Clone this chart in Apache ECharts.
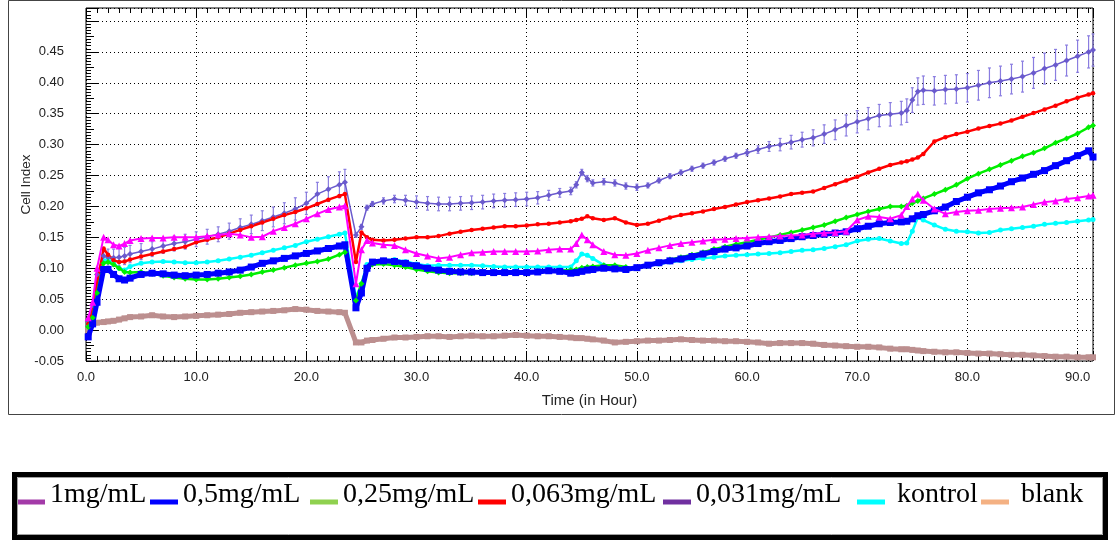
<!DOCTYPE html>
<html>
<head>
<meta charset="utf-8">
<script src="https://cdn.jsdelivr.net/npm/echarts@6/dist/echarts.min.js"></script>
<style>
html,body{margin:0;padding:0;background:#fff;}
#c{width:1119px;height:540px;}
</style>
</head>
<body>
<div id="c"></div>
<script>
// ---- data (time in hours, Cell Index) ----
const times = [
  0.2, 0.6, 1.0, 1.6, 2.0, 2.5, 3.0, 3.5, 4, 5,
  6, 7, 8, 9, 10, 11, 12, 13, 14, 15,
  16, 17, 18, 19, 20, 21, 22, 23, 23.5,
  24.5, 25, 25.5, 26, 27, 28, 29, 30, 31, 32, 33, 34, 35, 36, 37, 38, 39, 40, 41, 42, 43, 44,
  44.5, 45, 45.5, 46, 47, 48, 49, 50,
  51, 52, 53, 54, 55, 56, 57, 58, 59, 60, 61, 62, 63, 64, 65, 66, 67, 68, 69, 70, 71, 72, 73, 74,
  74.5, 75, 75.5, 76,
  77, 78, 79, 80, 81, 82, 83, 84, 85, 86, 87, 88, 89, 90, 91,
  91.4
];
const mg1 = [
  0.020, 0.045, 0.100, 0.150, 0.146, 0.138, 0.136, 0.140, 0.145, 0.148,
  0.149, 0.149, 0.150, 0.150, 0.150, 0.152, 0.154, 0.156, 0.154, 0.150,
  0.151, 0.160, 0.166, 0.172, 0.180, 0.188, 0.195, 0.199, 0.201,
  0.075, 0.130, 0.145, 0.141, 0.138, 0.137, 0.130, 0.124, 0.120, 0.116, 0.118, 0.122, 0.125, 0.126, 0.127, 0.127, 0.127, 0.127, 0.128, 0.130, 0.131, 0.131,
  0.140, 0.154, 0.146, 0.138, 0.127, 0.122, 0.121, 0.124,
  0.129, 0.133, 0.137, 0.140, 0.142, 0.144, 0.146, 0.147, 0.148, 0.149, 0.150, 0.151, 0.152, 0.153, 0.154, 0.156, 0.157, 0.158, 0.160, 0.178, 0.184, 0.183, 0.180, 0.186,
  0.200, 0.212, 0.220, 0.210,
  0.196, 0.188, 0.191, 0.193, 0.194, 0.196, 0.197, 0.198, 0.199, 0.203, 0.207, 0.209, 0.212, 0.214, 0.217,
  0.218
];
const mg05 = [
  -0.011, 0.010, 0.045, 0.098, 0.098, 0.090, 0.083, 0.081, 0.084, 0.090,
  0.092, 0.091, 0.089, 0.088, 0.089, 0.090, 0.092, 0.094, 0.097, 0.102,
  0.108, 0.112, 0.116, 0.120, 0.124, 0.128, 0.132, 0.136, 0.138,
  0.036, 0.060, 0.100, 0.110, 0.112, 0.111, 0.108, 0.104, 0.100, 0.097, 0.095, 0.094, 0.094, 0.093, 0.093, 0.093, 0.093, 0.093, 0.094, 0.096, 0.095, 0.092,
  0.093, 0.095, 0.097, 0.098, 0.100, 0.099, 0.098, 0.101,
  0.105, 0.109, 0.112, 0.115, 0.119, 0.123, 0.127, 0.131, 0.133, 0.136, 0.140, 0.143, 0.145, 0.148, 0.151, 0.153, 0.155, 0.157, 0.159, 0.164, 0.168, 0.172, 0.174, 0.175,
  0.176, 0.180, 0.185, 0.187,
  0.193, 0.199, 0.208, 0.215, 0.222, 0.227, 0.233, 0.240, 0.246, 0.252, 0.258, 0.266, 0.274, 0.282, 0.290,
  0.280
];
const mg025 = [
  0.005, 0.020, 0.060, 0.108, 0.110, 0.106, 0.100, 0.094, 0.093, 0.094,
  0.091, 0.088, 0.085, 0.083, 0.082, 0.082, 0.083, 0.085, 0.087, 0.090,
  0.094, 0.097, 0.101, 0.105, 0.108, 0.111, 0.115, 0.122, 0.126,
  0.048, 0.075, 0.100, 0.106, 0.107, 0.105, 0.102, 0.098, 0.095, 0.093, 0.092, 0.092, 0.092, 0.093, 0.093, 0.093, 0.094, 0.094, 0.095, 0.096, 0.096, 0.097,
  0.098, 0.101, 0.102, 0.103, 0.105, 0.105, 0.102, 0.100,
  0.104, 0.109, 0.114, 0.118, 0.122, 0.126, 0.131, 0.135, 0.139, 0.142, 0.146, 0.150, 0.154, 0.158, 0.162, 0.166, 0.170, 0.176, 0.182, 0.187, 0.192, 0.196, 0.200, 0.200,
  0.201, 0.205, 0.209, 0.213,
  0.220, 0.227, 0.235, 0.245, 0.253, 0.260, 0.267, 0.274, 0.281, 0.287, 0.294, 0.303, 0.310, 0.318, 0.328,
  0.331
];
const mg0063 = [
  0.010, 0.030, 0.075, 0.132, 0.122, 0.113, 0.110, 0.111, 0.114, 0.119,
  0.123, 0.127, 0.131, 0.135, 0.142, 0.146, 0.150, 0.156, 0.162, 0.168,
  0.174, 0.180, 0.186, 0.191, 0.197, 0.204, 0.211, 0.217, 0.220,
  0.110, 0.158, 0.150, 0.146, 0.145, 0.146, 0.148, 0.150, 0.150, 0.152, 0.156, 0.159, 0.162, 0.164, 0.166, 0.168, 0.168, 0.169, 0.171, 0.172, 0.174, 0.176,
  0.178, 0.180, 0.184, 0.181, 0.178, 0.181, 0.174, 0.170,
  0.172, 0.177, 0.182, 0.186, 0.189, 0.192, 0.196, 0.199, 0.203, 0.207, 0.210, 0.213, 0.216, 0.220, 0.222, 0.224, 0.230, 0.236, 0.242, 0.248, 0.255, 0.261, 0.267, 0.271,
  0.273, 0.276, 0.279, 0.285,
  0.305, 0.312, 0.317, 0.321, 0.326, 0.330, 0.334, 0.339, 0.345, 0.351, 0.357, 0.363, 0.370, 0.376, 0.381,
  0.383
];
const mg0031 = [
  0.015, 0.040, 0.090, 0.120, 0.118, 0.117, 0.118, 0.120, 0.123, 0.127,
  0.131, 0.136, 0.140, 0.143, 0.147, 0.151, 0.155, 0.160, 0.166, 0.171,
  0.177, 0.183, 0.189, 0.196, 0.205, 0.220, 0.228, 0.235, 0.239,
  0.154, 0.167, 0.198, 0.204, 0.209, 0.212, 0.210, 0.207, 0.205, 0.204, 0.204, 0.205, 0.206, 0.207, 0.209, 0.210, 0.211, 0.212, 0.214, 0.218, 0.222, 0.225,
  0.235, 0.255, 0.245, 0.238, 0.240, 0.238, 0.233, 0.231,
  0.234, 0.242, 0.249, 0.255, 0.261, 0.266, 0.271, 0.277, 0.282, 0.287, 0.292, 0.297, 0.300, 0.304, 0.308, 0.311, 0.317, 0.324, 0.331, 0.337, 0.342, 0.347, 0.349, 0.351,
  0.355, 0.372, 0.386, 0.388,
  0.387, 0.389, 0.390, 0.392, 0.396, 0.400, 0.403, 0.406, 0.410, 0.416, 0.423, 0.429, 0.436, 0.443, 0.450,
  0.453
];
const mg0031Err = [
  0.003, 0.005, 0.008, 0.012, 0.013, 0.014, 0.014, 0.014, 0.014, 0.013,
  0.012, 0.012, 0.012, 0.012, 0.012, 0.012, 0.012, 0.013, 0.014, 0.015,
  0.016, 0.016, 0.017, 0.018, 0.018, 0.019, 0.020, 0.021, 0.021,
  0.004, 0.004, 0.004, 0.004, 0.005, 0.006, 0.008, 0.010, 0.011, 0.011, 0.011, 0.011, 0.011, 0.011, 0.011, 0.011, 0.011, 0.011, 0.010, 0.008, 0.007, 0.006,
  0.005, 0.005, 0.005, 0.005, 0.005, 0.005, 0.005, 0.005,
  0.004, 0.004, 0.004, 0.004, 0.004, 0.004, 0.004, 0.004, 0.004, 0.005, 0.006, 0.008, 0.010, 0.011, 0.012, 0.013, 0.015, 0.016, 0.017, 0.018, 0.018, 0.018, 0.019, 0.019,
  0.019, 0.020, 0.022, 0.023,
  0.023, 0.023, 0.023, 0.023, 0.024, 0.024, 0.024, 0.024, 0.025, 0.025, 0.025, 0.025, 0.025, 0.026, 0.026,
  0.026
];
const kontrol = [
  0.010, 0.030, 0.070, 0.112, 0.115, 0.108, 0.100, 0.097, 0.103, 0.108,
  0.110, 0.111, 0.110, 0.109, 0.109, 0.110, 0.112, 0.115, 0.118, 0.121,
  0.125, 0.129, 0.133, 0.137, 0.143, 0.147, 0.151, 0.155, 0.157,
  0.052, 0.075, 0.106, 0.110, 0.113, 0.114, 0.111, 0.107, 0.104, 0.105, 0.105, 0.105, 0.105, 0.104, 0.103, 0.102, 0.102, 0.102, 0.102, 0.102, 0.102, 0.102,
  0.112, 0.123, 0.121, 0.116, 0.105, 0.098, 0.097, 0.100,
  0.104, 0.107, 0.110, 0.112, 0.114, 0.116, 0.118, 0.120, 0.121, 0.122, 0.123, 0.124, 0.125, 0.127, 0.129, 0.130, 0.132, 0.135, 0.138, 0.144, 0.147, 0.148, 0.144, 0.140,
  0.141, 0.160, 0.182, 0.178,
  0.170, 0.163, 0.160, 0.159, 0.157, 0.158, 0.162, 0.164, 0.166, 0.168, 0.171, 0.173, 0.174, 0.176, 0.178,
  0.179
];
const blank = [
  0.000, 0.010, 0.012, 0.013, 0.014, 0.015, 0.017, 0.019, 0.021, 0.022,
  0.024, 0.022, 0.021, 0.022, 0.023, 0.024, 0.025, 0.026, 0.028, 0.029,
  0.030, 0.031, 0.032, 0.034, 0.033, 0.031, 0.030, 0.029, 0.028,
  -0.020, -0.020, -0.017, -0.016, -0.014, -0.012, -0.012, -0.011, -0.010, -0.010, -0.011, -0.010, -0.009, -0.010, -0.010, -0.009, -0.008, -0.009, -0.010, -0.010, -0.011, -0.012,
  -0.013, -0.013, -0.014, -0.015, -0.017, -0.020, -0.019, -0.018,
  -0.017, -0.017, -0.016, -0.015, -0.016, -0.017, -0.017, -0.018, -0.018, -0.019, -0.020, -0.022, -0.021, -0.021, -0.021, -0.022, -0.024, -0.025, -0.026, -0.027, -0.027, -0.028, -0.030, -0.031,
  -0.031, -0.032, -0.033, -0.034,
  -0.035, -0.036, -0.036, -0.037, -0.038, -0.038, -0.039, -0.040, -0.040, -0.041, -0.042, -0.043, -0.043, -0.044, -0.044,
  -0.044
];
const seriesNames = ['1mg/mL', '0,5mg/mL', '0,25mg/mL', '0,063mg/mL', '0,031mg/mL', 'kontrol', 'blank'];
const legendColors = ['#a33aa8', '#0000ff', '#8fd14f', '#ff0000', '#7030a0', '#00ffff', '#f4b183'];
const xMin = 0, xMax = 91.4;
const yMin = -0.05, yMax = 0.521;

// ---- chart ----
const FONT = '"Liberation Sans", Arial, sans-serif';
const pair = arr => times.map((t, i) => [t, arr[i]]);

function lineSeries(name, arr, color, symbol, size, width, z) {
  return {
    type: 'line', name, data: pair(arr),
    xAxisIndex: 0, yAxisIndex: 0,
    symbol, symbolSize: size, showAllSymbol: true,
    lineStyle: { color, width },
    itemStyle: { color, borderWidth: 0 },
    emphasis: { disabled: true }, silent: true, z
  };
}

const errData = times.map((t, i) => [t, mg0031[i] - mg0031Err[i], mg0031[i] + mg0031Err[i]]);

const tickAxisBase = {
  type: 'value', min: xMin, max: xMax,
  axisLine: { show: false, onZero: false },
  axisLabel: { show: false },
  splitLine: { show: false }
};
const yTickBase = {
  type: 'value', min: yMin, max: yMax, position: 'left',
  axisLine: { show: false, onZero: false },
  axisLabel: { show: false },
  splitLine: { show: false }
};
const gridLine = { show: true, lineStyle: { color: '#000', width: 1, type: [1, 3] } };

const ICON = 'path://M0,0L0,0M0,14L28,14L28,19L0,19Z';
const legendLefts = [17, 150, 310, 478, 663, 857, 981];
const legendPrefix = ['', '', '', '', '', ' ', ' '];
const legends = seriesNames.map((n, i) => ({
  left: legendLefts[i], top: 481, padding: 0, orient: 'horizontal',
  itemWidth: 28, itemHeight: 19, selectedMode: false,
  data: [{ name: n, icon: ICON, itemStyle: { color: legendColors[i], borderWidth: 0 } }],
  formatter: name => legendPrefix[i] + name,
  textStyle: { fontFamily: '"Liberation Serif", "Times New Roman", serif', fontSize: 28, color: '#000' }
}));

const chart = echarts.init(document.getElementById('c'), null, { renderer: 'canvas' });
chart.setOption({
  animation: false,
  backgroundColor: '#fff',
  grid: { left: 86, top: 8, width: 1007, height: 353, show: true, borderColor: '#000', borderWidth: 1, backgroundColor: 'transparent', outerBoundsMode: 'none' },
  legend: legends,
  xAxis: [
    {
      type: 'value', min: xMin, max: xMax, interval: 10, position: 'bottom',
      axisLine: { show: false, onZero: false },
      axisTick: { inside: true, length: 10, lineStyle: { color: '#000' } },
      axisLabel: {
        margin: 10, fontSize: 13, fontFamily: FONT, color: '#222',
        formatter: v => (Math.abs(v / 10 - Math.round(v / 10)) < 1e-6 ? v.toFixed(1) : '')
      },
      splitLine: gridLine,
      name: 'Time (in Hour)', nameLocation: 'middle', nameGap: 32, nameMoveOverlap: false,
      nameTextStyle: { fontSize: 15, fontFamily: FONT, color: '#222' }
    },
    Object.assign({}, tickAxisBase, { interval: 1, position: 'bottom', axisTick: { inside: true, length: 5, lineStyle: { color: '#000' } } }),
    Object.assign({}, tickAxisBase, { interval: 10, position: 'top', axisTick: { inside: true, length: 10, lineStyle: { color: '#000' } } }),
    Object.assign({}, tickAxisBase, { interval: 1, position: 'top', axisTick: { inside: true, length: 5, lineStyle: { color: '#000' } } })
  ],
  yAxis: [
    {
      type: 'value', min: yMin, max: yMax, interval: 0.05, position: 'left',
      axisLine: { show: false, onZero: false },
      axisTick: { inside: true, length: 12, lineStyle: { color: '#000' } },
      axisLabel: {
        margin: 22, fontSize: 13, fontFamily: FONT, color: '#222',
        formatter: v => {
          const k = Math.round(v * 20);
          if (Math.abs(v * 20 - k) > 1e-6 || v > 0.46) return '';
          return v.toFixed(2);
        }
      },
      splitLine: gridLine,
      name: 'Cell Index', nameLocation: 'middle', nameGap: 53, nameMoveOverlap: false,
      nameTextStyle: { fontSize: 13.5, fontFamily: FONT, color: '#222' }
    },
    Object.assign({}, yTickBase, { interval: 0.025, axisTick: { inside: true, length: 8, lineStyle: { color: '#000' } } }),
    Object.assign({}, yTickBase, { interval: 0.005, axisTick: { inside: true, length: 5, lineStyle: { color: '#000' } } })
  ],
  series: [
    lineSeries('blank', blank, '#bc8f8f', 'rect', 6, 5, 2),
    lineSeries('kontrol', kontrol, '#00ffff', 'circle', 5, 2.5, 3),
    {
      type: 'custom', name: '0,031mg/mL error', xAxisIndex: 0, yAxisIndex: 0, z: 3, silent: true,
      data: errData, encode: { x: 0, y: [1, 2] },
      renderItem: (params, api) => {
        const x = api.value(0);
        const a = api.coord([x, api.value(1)]);
        const b = api.coord([x, api.value(2)]);
        const st = { stroke: '#8a7de0', lineWidth: 1.2 };
        return {
          type: 'group', children: [
            { type: 'line', shape: { x1: a[0], y1: a[1], x2: b[0], y2: b[1] }, style: st },
            { type: 'line', shape: { x1: a[0] - 1.5, y1: a[1], x2: a[0] + 1.5, y2: a[1] }, style: st },
            { type: 'line', shape: { x1: b[0] - 1.5, y1: b[1], x2: b[0] + 1.5, y2: b[1] }, style: st }
          ]
        };
      }
    },
    lineSeries('0,031mg/mL', mg0031, '#6a5acd', 'diamond', 6, 1.5, 4),
    lineSeries('0,063mg/mL', mg0063, '#ff0000', 'circle', 4.5, 2.5, 4),
    lineSeries('0,25mg/mL', mg025, '#00ee00', 'diamond', 6, 2.5, 5),
    lineSeries('0,5mg/mL', mg05, '#0000ff', 'rect', 7, 5, 5),
    lineSeries('1mg/mL', mg1, '#ff00ff', 'triangle', 7, 2, 6)
  ],
  graphic: [
    { type: 'rect', silent: true, z: 100, shape: { x: 8.5, y: 0.5, width: 1106, height: 414 }, style: { fill: 'none', stroke: '#444', lineWidth: 1 } },
    { type: 'rect', silent: true, z: 100, shape: { x: 14.5, y: 474.5, width: 1091, height: 63 }, style: { fill: 'none', stroke: '#000', lineWidth: 5 } },
    { type: 'rect', silent: true, z: 100, shape: { x: 17.5, y: 477.5, width: 1085, height: 57 }, style: { fill: 'none', stroke: '#a0a0a0', lineWidth: 1 } }
  ]
});
</script>
</body>
</html>
